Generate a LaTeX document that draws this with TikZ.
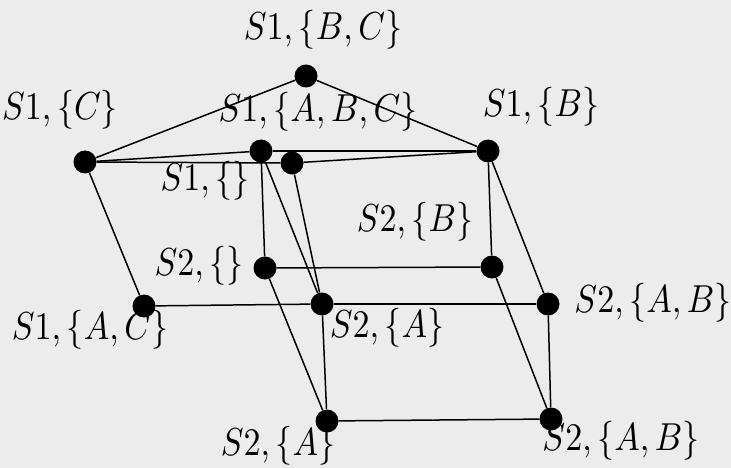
\documentclass[tikz,border=0pt]{standalone}
\usepackage{amsmath}
\usepackage{graphicx}
\newcommand{\mylbl}[1]{\scalebox{3.4}[3.9]{$#1$}}
\begin{document}
\begin{tikzpicture}[x=1pt,y=-1pt,
  dot/.style={circle,fill=black,inner sep=0pt,minimum size=23pt},
  lbl/.style={inner sep=0pt},
  edge/.style={line width=1.5pt}]
\definecolor{bg}{RGB}{236,236,236}
\fill[bg] (0,0) rectangle (731,468);
\useasboundingbox (0,0) rectangle (731,468);
% nodes
\node[dot] (t) at (306,76) {};
\node[dot] (c1) at (85,162) {};
\node[dot] (n1) at (261,151) {};
\node[dot] (e1) at (292,163) {};
\node[dot] (b1) at (488,151) {};
\node[dot] (s2e) at (265,268) {};
\node[dot] (s2b) at (492,267) {};
\node[dot] (ac) at (144,306) {};
\node[dot] (am) at (322,304) {};
\node[dot] (abm) at (548,304) {};
\node[dot] (ab) at (327,421) {};
\node[dot] (abb) at (551,419) {};
% edges
\draw[edge] (t) -- (c1);
\draw[edge] (t) -- (b1);
\draw[edge] (c1) -- (n1);
\draw[edge] (c1) -- (e1);
\draw[edge] (n1) -- (b1);
\draw[edge] (e1) -- (b1);
\draw[edge] (c1) -- (ac);
\draw[edge] (n1) -- (s2e);
\draw[edge] (n1) -- (am);
\draw[edge] (e1) -- (am);
\draw[edge] (b1) -- (s2b);
\draw[edge] (b1) -- (abm);
\draw[edge] (s2e) -- (s2b);
\draw[edge] (s2e) -- (ab);
\draw[edge] (s2b) -- (abb);
\draw[edge] (ac) -- (am);
\draw[edge] (am) -- (abm);
\draw[edge] (am) -- (ab);
\draw[edge] (abm) -- (abb);
\draw[edge] (ab) -- (abb);
% labels
\node[lbl] (lt) at (323,30) {\mylbl{S1,\{B,C\}}};
\node[lbl] (lc1) at (60,110) {\mylbl{S1,\{C\}}};
\node[lbl] (ln1) at (318,112) {\mylbl{S1,\{A,B,C\}}};
\node[lbl] (lb1) at (541,107) {\mylbl{S1,\{B\}}};
\node[lbl] (le1) at (205,181) {\mylbl{S1,\{\}}};
\node[lbl] (ls2b) at (415,222) {\mylbl{S2,\{B\}}};
\node[lbl] (ls2e) at (199,266) {\mylbl{S2,\{\}}};
\node[lbl] (labm) at (653,303) {\mylbl{S2,\{A,B\}}};
\node[lbl] (lac) at (90,330) {\mylbl{S1,\{A,C\}}};
\node[lbl] (lam) at (387,328) {\mylbl{S2,\{A\}}};
\node[lbl] (lab) at (278,446) {\mylbl{S2,\{A\}}};
\node[lbl] (labb) at (621,441) {\mylbl{S2,\{A,B\}}};
\end{tikzpicture}
\end{document}
